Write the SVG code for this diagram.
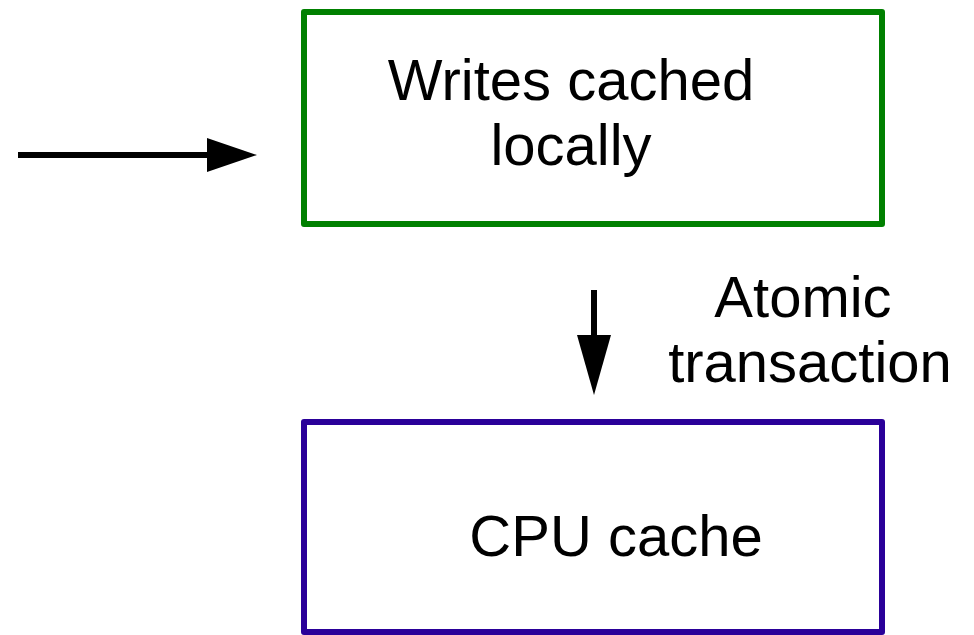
<svg xmlns="http://www.w3.org/2000/svg" width="974" height="635" viewBox="0 0 974 635">
  <style>
    .box { fill: #ffffff; stroke-width: 6; stroke-linejoin: round; }
    .lbl { font-family: "Liberation Sans", Arial, sans-serif; font-size: 58px; fill: #000000; text-anchor: middle; }
    .wire { stroke: #000000; stroke-width: 6; fill: none; }
    .head { fill: #000000; }
  </style>
  <rect width="974" height="635" fill="#ffffff"/>
  <g id="local-writes">
    <rect class="box" x="304" y="12" width="578" height="212" stroke="#008000"/>
    <text class="lbl" x="571" y="100">Writes cached</text>
    <text class="lbl" x="571" y="165">locally</text>
  </g>
  <g id="cpu-cache">
    <rect class="box" x="304" y="422" width="578" height="210" stroke="#2a0099"/>
    <text class="lbl" x="616" y="556">CPU cache</text>
  </g>
  <g id="connectors">
    <line class="wire" x1="18" y1="155" x2="210" y2="155"/>
    <polygon class="head" points="207,138 257,155 207,172"/>
    <line class="wire" x1="594" y1="290" x2="594" y2="338"/>
    <polygon class="head" points="577,335 611,335 594,395"/>
    <text class="lbl" x="803" y="317">Atomic</text>
    <text class="lbl" x="810" y="382">transaction</text>
  </g>
</svg>
